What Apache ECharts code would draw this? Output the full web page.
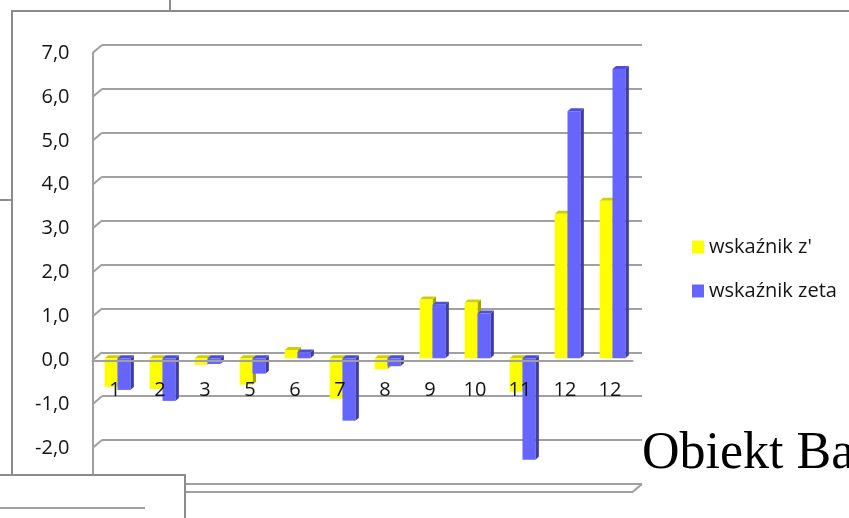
<!DOCTYPE html>
<html>
<head>
<meta charset="utf-8">
<script src="https://cdn.jsdelivr.net/npm/echarts@6/dist/echarts.min.js"></script>
<style>
  html, body { margin: 0; padding: 0; background: #ffffff; }
  #chart { width: 849px; height: 518px; }
</style>
</head>
<body>
<div id="chart"></div>
<script>
// Category labels along the horizontal axis
const categories = ['1', '2', '3', '5', '6', '7', '8', '9', '10', '11', '12', '12'];
// Series values
const zPrime = [-0.65, -0.70, -0.15, -0.60, 0.19, -0.92, -0.25, 1.34, 1.27, -0.76, 3.29, 3.59];
const zeta   = [-0.72, -0.97, -0.13, -0.35, 0.13, -1.42, -0.18, 1.22, 1.02, -2.31, 5.63, 6.59];
const seriesNames = ["wskaźnik z'", 'wskaźnik zeta'];
// Value axis ticks
const yTicks = [-3, -2, -1, 0, 1, 2, 3, 4, 5, 6, 7];

// Oblique 3-D look: offset from the back wall to the front edge of the plot,
// where the bar front faces sit, and the depth of each bar.
const WALL_DEPTH = [-9.5, 8];
const BAR_FRONT = [-7, 6];
const BAR_DEPTH = [3.5, -3];

const PLOT = { left: 102, top: 45, width: 540, height: 439 };
const Y_MIN = yTicks[0];
const Y_MAX = yTicks[yTicks.length - 1];
// lift the category axis from the floor up to the zero line
const CAT_AXIS_OFFSET = -(0 - Y_MIN) * PLOT.height / (Y_MAX - Y_MIN);

const FACE_COLORS = [
  { front: '#FFFF00', top: '#CFCF00', side: '#A3A300' },
  { front: '#6666FF', top: '#4F4FD6', side: '#3D3DA3' }
];
const LINE = '#A0A0A0';
const TEXT = '#141414';
const FONT = 'Open Sans';
const FONT_SIZE = 20;

function barRenderer(s) {
  return function (params, api) {
    const i = api.value(0);
    const v = api.value(1);
    const base = api.coord([i, 0]);
    const end = api.coord([i, v]);
    const bw = api.size([1, 0])[0];
    const w = bw / 3.5;
    const x0 = base[0] + BAR_FRONT[0] - w + s * w;
    const x1 = x0 + w;
    const yT = Math.min(base[1], end[1]) + BAR_FRONT[1];
    const yB = Math.max(base[1], end[1]) + BAR_FRONT[1];
    const dx = BAR_DEPTH[0], dy = BAR_DEPTH[1];
    const c = FACE_COLORS[s];
    return {
      type: 'group',
      children: [
        { type: 'polygon', shape: { points: [[x1, yT], [x1 + dx, yT + dy], [x1 + dx, yB + dy], [x1, yB]] },
          style: { fill: c.side } },
        { type: 'polygon', shape: { points: [[x0, yT], [x1, yT], [x1 + dx, yT + dy], [x0 + dx, yT + dy]] },
          style: { fill: c.top } },
        { type: 'rect', shape: { x: x0, y: yT, width: w, height: Math.max(yB - yT, 0.5) },
          style: { fill: c.front } }
      ]
    };
  };
}

// Side wall and floor edges, one entry per value tick
function frameRenderer(params, api) {
  const v = api.value(1);
  const cs = params.coordSys;
  const y = api.coord([0, v])[1];
  const dx = WALL_DEPTH[0], dy = WALL_DEPTH[1];
  const st = { stroke: LINE, lineWidth: 2, fill: null };
  const children = [
    { type: 'line', shape: { x1: cs.x + dx, y1: y + dy, x2: cs.x, y2: y }, style: st }
  ];
  if (v === Y_MIN) {
    children.push({ type: 'polyline', shape: { points: [
      [cs.x + dx, y + dy], [cs.x + cs.width + dx, y + dy], [cs.x + cs.width, y]
    ] }, style: st });
  }
  return { type: 'group', children: children };
}

const chart = echarts.init(document.getElementById('chart'), null, { renderer: 'canvas' });

const yFmt = v => v.toFixed(1).replace('.', ',');

chart.setOption({
  animation: false,
  backgroundColor: '#ffffff',
  grid: [
    // back wall
    { left: PLOT.left, top: PLOT.top, width: PLOT.width, height: PLOT.height, outerBoundsMode: 'none' },
    // front edge of the plot
    { left: PLOT.left + WALL_DEPTH[0], top: PLOT.top + WALL_DEPTH[1], width: PLOT.width, height: PLOT.height,
      outerBoundsMode: 'none' }
  ],
  xAxis: [
    { type: 'category', gridIndex: 0, data: categories,
      axisLine: { show: false }, axisTick: { show: false }, axisLabel: { show: false }, splitLine: { show: false } },
    { type: 'category', gridIndex: 1, data: categories, position: 'bottom', offset: CAT_AXIS_OFFSET, z: 10,
      axisLine: { show: true, onZero: false, lineStyle: { color: LINE, width: 2 } },
      axisTick: { show: false },
      axisLabel: { margin: 20, fontSize: FONT_SIZE, fontFamily: FONT, color: TEXT },
      splitLine: { show: false } }
  ],
  yAxis: [
    { type: 'value', gridIndex: 0, min: Y_MIN, max: Y_MAX, interval: 1,
      axisLine: { show: false }, axisTick: { show: false }, axisLabel: { show: false },
      splitLine: { show: true, lineStyle: { color: LINE, width: 2 } } },
    { type: 'value', gridIndex: 1, min: Y_MIN, max: Y_MAX, interval: 1,
      axisLine: { show: true, lineStyle: { color: LINE, width: 2 } },
      axisTick: { show: false }, splitLine: { show: false },
      axisLabel: { margin: 23, fontSize: FONT_SIZE, fontFamily: FONT, color: TEXT, formatter: yFmt } }
  ],
  legend: {
    orient: 'vertical',
    left: 687,
    top: 232,
    itemWidth: 12,
    itemHeight: 13,
    itemGap: 24,
    icon: 'rect',
    textStyle: { fontSize: FONT_SIZE, fontFamily: FONT, color: TEXT, lineHeight: 20 },
    data: [
      { name: seriesNames[0], itemStyle: { color: FACE_COLORS[0].front } },
      { name: seriesNames[1], itemStyle: { color: FACE_COLORS[1].front } }
    ]
  },
  series: [
    { type: 'custom', name: 'frame', xAxisIndex: 0, yAxisIndex: 0, clip: false, silent: true,
      renderItem: frameRenderer, data: yTicks.map(v => [0, v]), z: 1 },
    { type: 'custom', name: seriesNames[0], xAxisIndex: 0, yAxisIndex: 0, clip: false,
      itemStyle: { color: FACE_COLORS[0].front },
      renderItem: barRenderer(0), data: zPrime.map((v, i) => [i, v]), z: 3 },
    { type: 'custom', name: seriesNames[1], xAxisIndex: 0, yAxisIndex: 0, clip: false,
      itemStyle: { color: FACE_COLORS[1].front },
      renderItem: barRenderer(1), data: zeta.map((v, i) => [i, v]), z: 4 }
  ],
  graphic: [
    // surrounding page objects
    { type: 'polyline', z: 50, shape: { points: [[12, 475], [12, 11], [850, 11]] },
      style: { stroke: '#8C8C8C', lineWidth: 2, fill: null } },
    { type: 'line', z: 50, shape: { x1: 170, y1: 0, x2: 170, y2: 11 }, style: { stroke: '#8C8C8C', lineWidth: 2 } },
    { type: 'line', z: 50, shape: { x1: 0, y1: 200, x2: 12, y2: 200 }, style: { stroke: '#8C8C8C', lineWidth: 2 } },
    { type: 'rect', z: 60, shape: { x: -2, y: 475, width: 187, height: 50 },
      style: { fill: '#ffffff', stroke: '#8C8C8C', lineWidth: 2 } },
    { type: 'line', z: 61, shape: { x1: 0, y1: 508, x2: 145, y2: 508 }, style: { stroke: '#A0A0A0', lineWidth: 2 } },
    { type: 'text', z: 70, style: { text: 'Obiekt Ba', x: 642, y: 454, fill: '#000000',
      font: '52px "Liberation Serif"', verticalAlign: 'middle', align: 'left' } }
  ]
});
</script>
</body>
</html>
